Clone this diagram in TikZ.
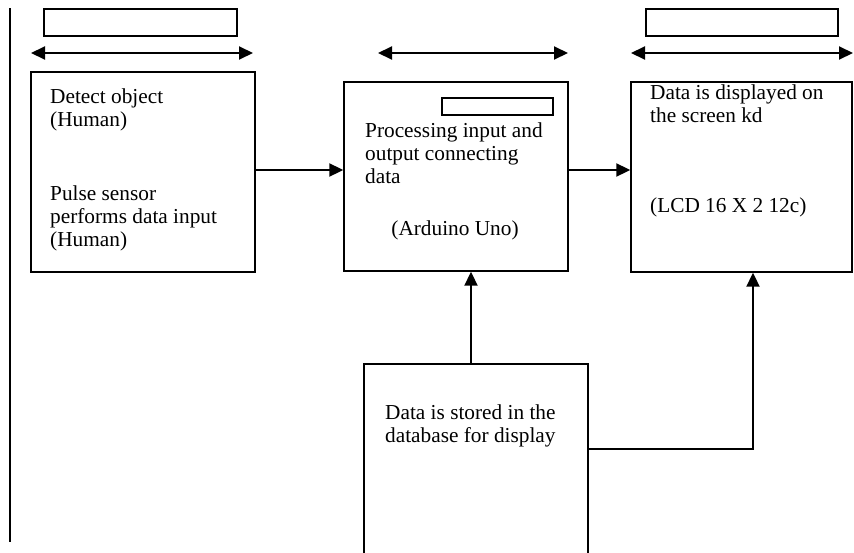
\documentclass[tikz,border=0pt]{standalone}
\usepackage{fontspec}
\setmainfont{Liberation Serif}
\usetikzlibrary{arrows.meta}
\begin{document}
\begin{tikzpicture}[x=1pt,y=-1pt,
  box/.style={draw=black,line width=1.4pt,inner sep=0pt,fill=white},
  arr/.style={line width=2pt,-{Triangle[length=14pt,width=13pt]}},
  darr/.style={line width=2pt,{Triangle[length=14pt,width=13pt]}-{Triangle[length=14pt,width=13pt]}},
  txt/.style={font=\fontsize{21.3}{23}\selectfont,inner sep=0pt,anchor=base west}]
\useasboundingbox (0,0) rectangle (854,552);
\clip (0,0) rectangle (854,552);
\draw[line width=1.5pt] (10,8) coordinate (vt) -- (10,542) coordinate (vb);
% main boxes
\node[box,minimum width=224pt,minimum height=200pt] (b1) at (143,172) {};
\node[box,minimum width=224pt,minimum height=189pt] (b2) at (456,176.5) {};
\node[box,minimum width=221pt,minimum height=190pt] (b3) at (741.5,177) {};
\node[box,minimum width=224pt,minimum height=236pt] (b4) at (476,482) {};
% small empty boxes
\node[box,minimum width=193pt,minimum height=27pt] (s1) at (140.5,22.5) {};
\node[box,minimum width=192pt,minimum height=27pt] (s3) at (742,22.5) {};
\node[box,minimum width=111pt,minimum height=17pt] (s2) at (497.5,106.5) {};
% double arrows
\coordinate (d1a) at (31,53); \coordinate (d1b) at (253,53);
\coordinate (d2a) at (378,53); \coordinate (d2b) at (568,53);
\coordinate (d3a) at (631,53); \coordinate (d3b) at (853,53);
\draw[darr] (d1a) -- (d1b);
\draw[darr] (d2a) -- (d2b);
\draw[darr] (d3a) -- (d3b);
% texts
\node[txt] (t11) at (50,103) {Detect object};
\node[txt] (t12) at (50,126) {(Human)};
\node[txt] (t13) at (50,200) {Pulse sensor};
\node[txt] (t14) at (50,223) {performs data input};
\node[txt] (t15) at (50,246) {(Human)};
\node[txt] (t21) at (365,137) {Processing input and};
\node[txt] (t22) at (365,160) {output connecting};
\node[txt] (t23) at (365,183) {data};
\node[txt,anchor=base] (t24) at (455,235) {(Arduino Uno)};
\node[txt] (t31) at (650,99) {Data is displayed on};
\node[txt] (t32) at (650,122) {the screen kd};
\node[txt] (t33) at (650,212) {(LCD 16 X 2 12c)};
\node[txt] (t41) at (385,419) {Data is stored in the};
\node[txt] (t42) at (385,442) {database for display};
% connectors
\coordinate (ya) at (0,170);
\coordinate (xa) at (471,0);
\coordinate (yb) at (0,449);
\coordinate (xb) at (753,0);
\draw[arr] (b1.east |- ya) -- (b2.west |- ya);
\draw[arr] (b2.east |- ya) -- (b3.west |- ya);
\draw[arr] (b4.north -| xa) -- (b2.south -| xa);
\draw[arr] (b4.east |- yb) -- (xb |- yb) -- (b3.south -| xb);
\end{tikzpicture}
\end{document}
